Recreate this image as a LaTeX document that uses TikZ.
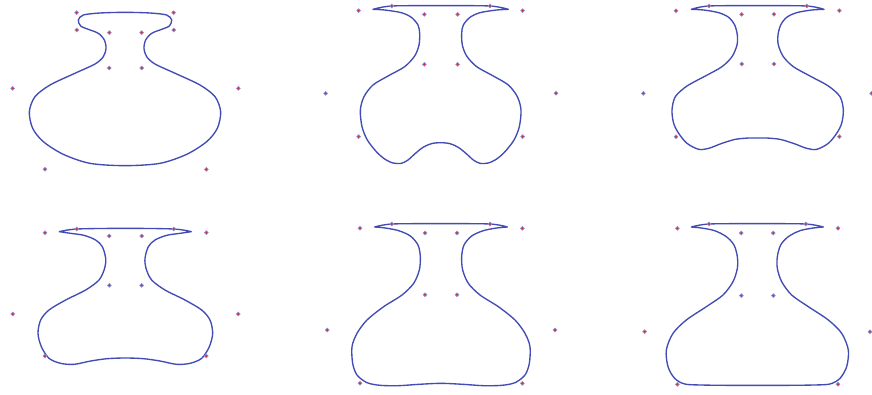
\documentclass[tikz,border=0pt]{standalone}
\usepackage{xcolor}
\definecolor{vaseblue}{RGB}{66,76,180}
\definecolor{ctrlred}{RGB}{220,34,60}

\begin{document}
\begin{tikzpicture}[x=0.3333pt, y=-0.3333pt,
   vase/.style = {draw=vaseblue, line width=1.35pt, line join=round},
   ctrl/.style = {fill=ctrlred, draw=vaseblue!60, line width=0.7pt}
]
\useasboundingbox (0,0) rectangle (2616,1182);
\fill[white] (0,0) rectangle (2616,1182);

% top row
\begin{scope}
\draw[vase] plot[smooth cycle] coordinates {(375,37) (450,39) (500,45) (515,60) (508,78) (485,88) (455,100) (437,120) (432,145) (440,170) (465,192) (530,222) (600,255) (645,290) (662,335) (652,385) (620,425) (560,463) (480,490) (375,497) (270,490) (190,463) (130,425) (98,385) (88,335) (105,290) (150,255) (220,222) (285,192) (310,170) (318,145) (313,120) (295,100) (265,88) (242,78) (235,60) (250,45) (300,39)};
\foreach \x/\y in {230/38, 521/38, 230/90, 521/90, 328/98, 425/98, 328/204, 425/204, 38/265, 715/265, 135/508, 619/508}
   \filldraw[ctrl] (\x,\y) circle (1.9pt);
\end{scope}

\begin{scope}[shift={(930,0)}]
\draw[vase] plot[smooth] coordinates {(189,28) (245,18) (392,17) (540,18) (595,28)}
   -- plot[smooth] coordinates {(595,28) (560,30) (510,38) (480,52) (460,75) (455,100) (457,135) (470,168) (500,200) (550,228) (595,255) (622,290) (633,330) (628,380) (612,420) (585,455) (560,477) (535,489) (510,490) (490,480) (470,462) (445,442) (420,431) (392,428) (364,431) (339,442) (314,462) (294,480) (274,490) (249,489) (224,477) (199,455) (172,420) (156,380) (151,330) (162,290) (189,255) (234,228) (284,200) (314,168) (327,135) (329,100) (324,75) (304,52) (274,38) (224,30) (189,28)} -- cycle;
\foreach \x/\y in {146/32, 245/18, 540/18, 638/32, 343/43, 443/43, 343/193, 443/193, 47/280, 738/280, 146/410, 638/410}
   \filldraw[ctrl] (\x,\y) circle (1.9pt);
\end{scope}

\begin{scope}[shift={(1860,0)}]
\draw[vase] plot[smooth] coordinates {(214,28) (266,18) (413,17) (560,18) (612,28)}
   -- plot[smooth] coordinates {(612,28) (575,30) (530,38) (500,52) (482,75) (474,105) (475,135) (490,170) (520,200) (570,228) (625,258) (660,290) (670,330) (665,370) (650,400) (625,430) (590,448) (560,445) (520,430) (480,418) (440,414) (413,414) (386,414) (346,418) (306,430) (266,445) (236,448) (201,430) (176,400) (161,370) (156,330) (166,290) (201,258) (256,228) (306,200) (336,170) (351,135) (352,105) (344,75) (326,52) (296,38) (251,30) (214,28)} -- cycle;
\foreach \x/\y in {168/32, 267/18, 560/18, 658/32, 365/43, 462/43, 365/192, 462/192, 70/280, 755/280, 168/410, 658/410}
   \filldraw[ctrl] (\x,\y) circle (1.9pt);
\end{scope}

% bottom row
\begin{scope}[shift={(0,600)}]
\draw[vase] plot[smooth] coordinates {(178,95) (231,87) (376,85) (521,87) (574,95)}
   -- plot[smooth] coordinates {(574,95) (540,100) (500,106) (465,120) (445,140) (435,175) (438,205) (455,240) (495,270) (555,300) (605,330) (630,360) (638,400) (628,440) (605,475) (570,490) (530,493) (480,483) (430,476) (376,474) (322,476) (272,483) (222,493) (182,490) (147,475) (124,440) (114,400) (122,360) (147,330) (197,300) (257,270) (297,240) (314,205) (317,175) (307,140) (287,120) (252,106) (212,100) (178,95)} -- cycle;
\foreach \x/\y in {135/98, 230/87, 521/87, 619/98, 328/108, 425/108, 328/256, 425/256, 38/342, 715/342, 135/468, 619/468}
   \filldraw[ctrl] (\x,\y) circle (1.9pt);
\end{scope}

\begin{scope}[shift={(930,600)}]
\draw[vase] plot[smooth] coordinates {(194,81) (246,72) (393,71) (540,72) (592,81)}
   -- plot[smooth] coordinates {(592,81) (560,84) (520,92) (485,108) (462,135) (455,170) (458,210) (475,250) (510,285) (565,320) (615,360) (645,400) (660,440) (658,490) (645,525) (615,548) (575,556) (520,557) (460,553) (393,550) (326,553) (266,557) (211,556) (171,548) (141,525) (128,490) (126,440) (141,400) (171,360) (221,320) (276,285) (311,250) (328,210) (331,170) (324,135) (301,108) (266,92) (226,84) (194,81)} -- cycle;
\foreach \x/\y in {150/85, 245/72, 540/72, 637/85, 345/99, 441/99, 345/284, 441/284, 52/390, 735/390, 150/550, 637/550}
   \filldraw[ctrl] (\x,\y) circle (1.9pt);
\end{scope}

\begin{scope}[shift={(1860,600)}]
\draw[vase] plot[smooth] coordinates {(214,81) (267,72) (412,71) (557,72) (610,81)}
   -- plot[smooth] coordinates {(610,81) (580,84) (540,92) (505,110) (482,135) (472,170) (472,205) (485,245) (515,285) (565,320) (625,360) (665,400) (685,450) (680,500) (660,535) (630,552) (580,555) (500,556) (412,556) (324,556) (244,555) (194,552) (164,535) (144,500) (139,450) (159,400) (199,360) (259,320) (309,285) (339,245) (352,205) (352,170) (342,135) (319,110) (284,92) (244,84) (214,81)} -- cycle;
\foreach \x/\y in {172/85, 267/72, 557/72, 654/85, 364/99, 460/99, 364/287, 460/287, 74/395, 750/395, 172/553, 654/553}
   \filldraw[ctrl] (\x,\y) circle (1.9pt);
\end{scope}
\end{tikzpicture}
\end{document}
